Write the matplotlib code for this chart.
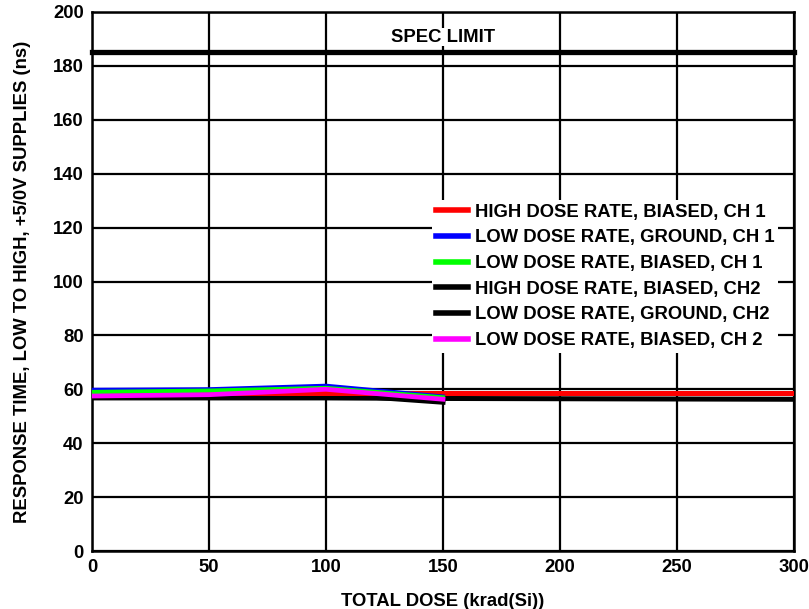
import numpy as np
import matplotlib
matplotlib.use('Agg')
import matplotlib.pyplot as plt

plt.rcParams['font.family'] = ['Liberation Sans', 'DejaVu Sans']
plt.rcParams['font.weight'] = 'bold'

# data
x_hdr = [0, 50, 100, 150, 200, 250, 300]
hdr_bias_ch1 = [58.8, 58.8, 58.8, 58.8, 58.8, 58.8, 58.8]
hdr_bias_ch2 = [56.8, 56.8, 56.8, 56.6, 56.5, 56.4, 56.3]

x_ldr = [0, 50, 100, 150]
ldr_gnd_ch1 = [59.8, 60.0, 61.3, 57.3]
ldr_bias_ch1 = [59.0, 59.5, 60.5, 57.0]
ldr_gnd_ch2 = [57.0, 57.5, 58.3, 55.2]
ldr_bias_ch2 = [57.5, 58.0, 60.0, 56.3]

spec_limit = 185

labels = ['HIGH DOSE RATE, BIASED, CH 1',
          'LOW DOSE RATE, GROUND, CH 1',
          'LOW DOSE RATE, BIASED, CH 1',
          'HIGH DOSE RATE, BIASED, CH2',
          'LOW DOSE RATE, GROUND, CH2',
          'LOW DOSE RATE, BIASED, CH 2']

fs = 13.3

fig = plt.figure(figsize=(8.09, 6.09), dpi=100, facecolor='white')
ax = fig.add_axes([92/809, 1 - 551/609, (794 - 92)/809, (551 - 12)/609])

ax.plot(x_hdr, hdr_bias_ch1, color='#ff0000', lw=3.6, label=labels[0], zorder=3)
ax.plot(x_ldr, ldr_gnd_ch1, color='#0000ff', lw=3.0, label=labels[1], zorder=3)
ax.plot(x_ldr, ldr_bias_ch1, color='#00ff00', lw=3.0, label=labels[2], zorder=3)
ax.plot(x_hdr, hdr_bias_ch2, color='black', lw=3.6, label=labels[3], zorder=2.9)
ax.plot(x_ldr, ldr_gnd_ch2, color='black', lw=3.6, label=labels[4], zorder=2.9)
ax.plot(x_ldr, ldr_bias_ch2, color='#ff00ff', lw=3.4, label=labels[5], zorder=3.1)

ax.plot([0, 300], [spec_limit, spec_limit], color='black', lw=3.8,
        solid_capstyle='projecting', clip_on=False, zorder=3)
ax.text(150, 190.7, 'SPEC LIMIT', ha='center', va='center', fontsize=fs,
        fontweight='bold', bbox=dict(facecolor='white', edgecolor='none', pad=0.5),
        zorder=4)

ax.set_xlim(0, 300)
ax.set_ylim(0, 200)
ax.set_xticks(np.arange(0, 301, 50))
ax.set_yticks(np.arange(0, 201, 20))
ax.grid(True, color='black', lw=1.6)
ax.set_axisbelow(True)
for s in ax.spines.values():
    s.set_linewidth(1.8)
ax.tick_params(length=0, pad=6, labelsize=fs)
for t in ax.get_xticklabels() + ax.get_yticklabels():
    t.set_fontweight('bold')

ax.set_xlabel('TOTAL DOSE (krad(Si))', fontsize=fs, fontweight='bold', labelpad=12)
ax.set_ylabel('RESPONSE TIME, LOW TO HIGH, +5/0V SUPPLIES (ns)', fontsize=fs,
              fontweight='bold', labelpad=16)

leg = ax.legend(loc='upper left', bbox_to_anchor=(432/809, 1 - 200/609),
                bbox_transform=fig.transFigure, fontsize=fs, frameon=True,
                fancybox=False, framealpha=1, edgecolor='none', facecolor='white',
                handlelength=1.75, handletextpad=0.38, labelspacing=0.47,
                borderpad=0.2, borderaxespad=0)
for line in leg.get_lines():
    line.set_linewidth(4)
for t in leg.get_texts():
    t.set_fontweight('bold')

fig.savefig('out.png', dpi=100)
